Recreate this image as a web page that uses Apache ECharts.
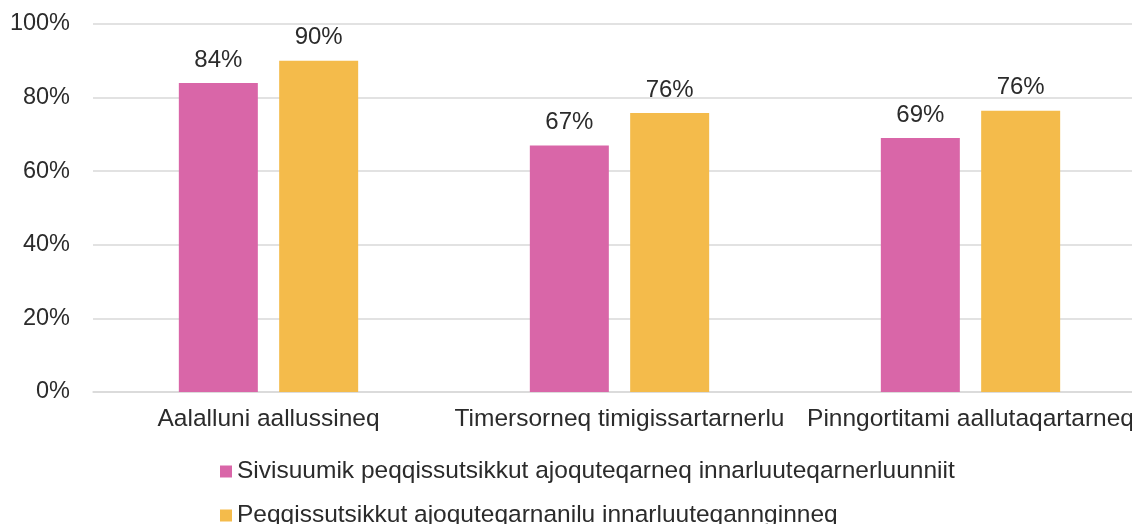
<!DOCTYPE html>
<html>
<head>
<meta charset="utf-8">
<script src="https://cdn.jsdelivr.net/npm/echarts@6/dist/echarts.min.js"></script>
<style>
  html, body { margin: 0; padding: 0; background: #fff; overflow: hidden; }
  #chart { width: 1146px; height: 524px; }
</style>
</head>
<body>
<div id="chart"></div>
<script>
const categories = ['Aalalluni aallussineq', 'Timersorneq timigissartarnerlu', 'Pinngortitami aallutaqartarneq'];
const seriesNames = [
  'Sivisuumik peqqissutsikkut ajoquteqarneq innarluuteqarnerluunniit',
  'Peqqissutsikkut ajoquteqarnanilu innarluuteqannginneq'
];
const pinkValues = [84, 67, 69];
const yellowValues = [90, 75.8, 76.4];
const yTicks = [0, 20, 40, 60, 80, 100];

const chart = echarts.init(document.getElementById('chart'));
const font = 'Liberation Sans, Arial, sans-serif';
const label = {
  show: true,
  position: 'top',
  distance: 11,
  fontSize: 24,
  fontFamily: font,
  color: '#2b2b2b',
  formatter: p => Math.round(p.value) + '%'
};
const legendBase = {
  left: 220,
  padding: 0,
  itemWidth: 12,
  itemHeight: 12,
  icon: 'rect',
  textStyle: { fontSize: 24.5, color: '#2b2b2b', fontFamily: font }
};

chart.setOption({
  animation: false,
  textStyle: { fontFamily: font },
  grid: { left: 93, right: 0, top: 24, bottom: 132 },
  legend: [
    Object.assign({}, legendBase, { top: 459, data: [seriesNames[0]] }),
    Object.assign({}, legendBase, { top: 503, data: [seriesNames[1]] })
  ],
  xAxis: {
    type: 'category',
    data: categories,
    axisTick: { show: false },
    axisLine: { lineStyle: { color: '#d9d9d9', width: 1.5 } },
    axisLabel: { fontSize: 24.5, color: '#2b2b2b', margin: 15, interval: 0, fontFamily: font }
  },
  yAxis: {
    type: 'value',
    min: 0,
    max: 100,
    interval: 20,
    axisLabel: {
      fontSize: 23.5,
      color: '#2b2b2b',
      margin: 23,
      fontFamily: font,
      formatter: v => (yTicks.includes(v) ? v + '%' : '')
    },
    splitLine: { lineStyle: { color: '#d9d9d9', width: 1.5 } }
  },
  series: [
    {
      name: seriesNames[0],
      type: 'bar',
      data: pinkValues,
      barWidth: 79,
      barGap: '27%',
      itemStyle: { color: '#D966A8' },
      label
    },
    {
      name: seriesNames[1],
      type: 'bar',
      data: yellowValues,
      barWidth: 79,
      barGap: '27%',
      itemStyle: { color: '#F4BB4B' },
      label
    }
  ]
});
</script>
</body>
</html>
